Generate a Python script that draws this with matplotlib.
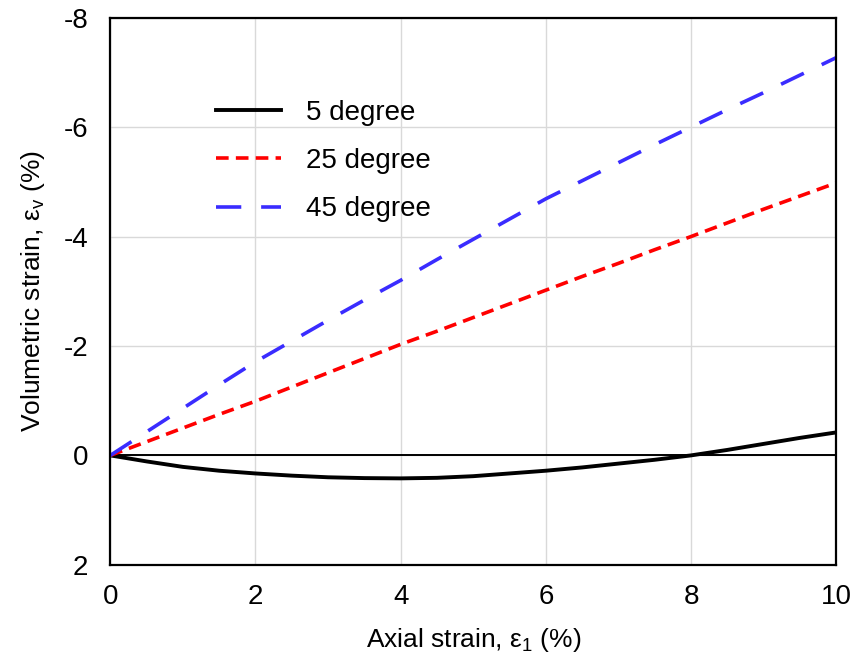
import numpy as np
import matplotlib
matplotlib.use('Agg')
import matplotlib.pyplot as plt

plt.rcParams['font.family'] = ['Liberation Sans', 'DejaVu Sans']
plt.rcParams['mathtext.fontset'] = 'custom'
plt.rcParams['mathtext.rm'] = 'Liberation Sans'
plt.rcParams['mathtext.it'] = 'Liberation Sans'
plt.rcParams['axes.unicode_minus'] = False

# --- данные: осевая деформация и объемная деформация (%) --- #
axial = [0, 0.5, 1, 1.5, 2, 2.5, 3, 3.5, 4, 4.5, 5, 5.5, 6, 6.5, 7, 7.5, 8, 8.5, 9, 9.5, 10]
vol_5 = [0, 0.11, 0.21, 0.28, 0.33, 0.37, 0.40, 0.415, 0.42, 0.41, 0.38, 0.33, 0.28, 0.22, 0.15, 0.08,
         0.0, -0.1, -0.21, -0.32, -0.42]
vol_25 = [0, -0.25, -0.5, -0.75, -0.99, -1.25, -1.51, -1.77, -2.03, -2.27, -2.52, -2.77, -3.02, -3.27,
          -3.51, -3.76, -4.0, -4.25, -4.5, -4.74, -4.98]
vol_45 = [0, -0.43, -0.86, -1.29, -1.71, -2.09, -2.47, -2.84, -3.2, -3.58, -3.95, -4.32, -4.69, -5.02,
          -5.35, -5.68, -6.0, -6.32, -6.63, -6.95, -7.27]

labels = ['5 degree', '25 degree', '45 degree']
xticks = [0, 2, 4, 6, 8, 10]
yticks = [-8, -6, -4, -2, 0, 2]

fig = plt.figure(figsize=(8.55, 6.56), dpi=100)
ax = fig.add_axes([0.129, 0.139, 0.849, 0.834])

ax.plot(axial, vol_5, color='black', lw=2.8, label=labels[0])
ax.plot(axial, vol_25, color='#ff0000', lw=2.6, dashes=(3.5, 2.0), label=labels[1])
ax.plot(axial, vol_45, color='#3a2cff', lw=2.6, dashes=(7, 5.5), label=labels[2])
ax.axhline(0, color='black', lw=1.4, zorder=1)

ax.set_xlim(0, 10)
ax.set_ylim(2, -8)
ax.set_xticks(xticks)
ax.set_yticks(yticks)
ax.grid(True, color='#d9d9d9', lw=1.0)
ax.set_axisbelow(True)
ax.tick_params(length=0, labelsize=20)
ax.tick_params(axis='y', pad=16)
ax.tick_params(axis='x', pad=14)
for s in ax.spines.values():
    s.set_linewidth(1.6)

ax.set_xlabel(r'Axial strain, ε$_{\mathrm{1}}$ (%)', fontsize=19, labelpad=11)
ax.set_ylabel(r'Volumetric strain, ε$_{\mathrm{v}}$ (%)', fontsize=19, labelpad=12)

ax.legend(loc='upper left', bbox_to_anchor=(0.13, 0.87), borderaxespad=0, frameon=False,
          fontsize=20, handlelength=2.35, handletextpad=0.9, labelspacing=0.8)

plt.savefig('out.png', dpi=100)
